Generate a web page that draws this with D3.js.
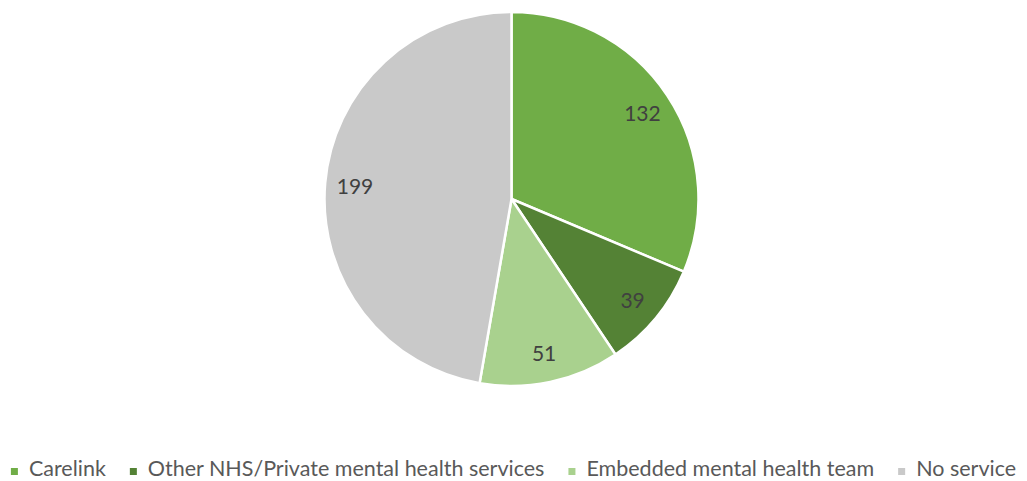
<!DOCTYPE html>
<html>
<head>
<meta charset="utf-8">
<script src="https://cdn.jsdelivr.net/npm/d3@7"></script>
<style>
  html, body { margin: 0; padding: 0; background: #fff; }
  svg { display: block; }
</style>
</head>
<body>
<svg id="chart" width="1027" height="481"></svg>
<script>
// Mental health support: number of responses per service type
const categories = ["Carelink", "Other NHS/Private mental health services", "Embedded mental health team", "No service"];
const values = [132, 39, 51, 199];
const colors = ["#70AD47", "#548235", "#A9D18E", "#C9C9C9"];

const svg = d3.select("#chart");
const W = 1027;
const cx = 511.5, cy = 199, R = 187;
const FONT = "Lato, 'Open Sans', sans-serif";

const pie = d3.pie().sort(null).value(d => d.value);
const data = categories.map((c, i) => ({ name: c, value: values[i], color: colors[i] }));
const arcs = pie(data);

const arc = d3.arc().innerRadius(0).outerRadius(R);
const labelArc = d3.arc().innerRadius(R * 0.84).outerRadius(R * 0.84);

const g = svg.append("g").attr("transform", `translate(${cx},${cy})`);

g.selectAll("path.slice")
  .data(arcs)
  .join("path")
  .attr("class", "slice")
  .attr("d", arc)
  .attr("fill", d => d.data.color)
  .attr("stroke", "#fff")
  .attr("stroke-width", 2.5)
  .attr("stroke-linejoin", "round");

g.selectAll("text.value")
  .data(arcs)
  .join("text")
  .attr("class", "value")
  .attr("transform", d => `translate(${labelArc.centroid(d)})`)
  .attr("text-anchor", "middle")
  .attr("dominant-baseline", "central")
  .attr("font-family", FONT)
  .attr("font-size", 21)
  .attr("fill", "#404040")
  .text(d => d.data.value);

// Legend: centred row of square markers with labels
const legend = svg.append("g");
const items = legend.selectAll("g.item")
  .data(data)
  .join("g")
  .attr("class", "item");

items.append("rect")
  .attr("width", 7)
  .attr("height", 7)
  .attr("y", -8)
  .attr("fill", d => d.color);

items.append("text")
  .attr("x", 18)
  .attr("y", 0)
  .attr("font-family", FONT)
  .attr("font-size", 21.5)
  .attr("fill", "#595959")
  .text(d => d.name);

const gap = 24;
const widths = [];
items.each(function () {
  widths.push(18 + d3.select(this).select("text").node().getComputedTextLength());
});
const total = d3.sum(widths) + gap * (widths.length - 1);
const start = (W - total) / 2;
let x = 0;
items.attr("transform", (d, i) => {
  const t = `translate(${start + x},${476})`;
  x += widths[i] + gap;
  return t;
});
</script>
</body>
</html>
